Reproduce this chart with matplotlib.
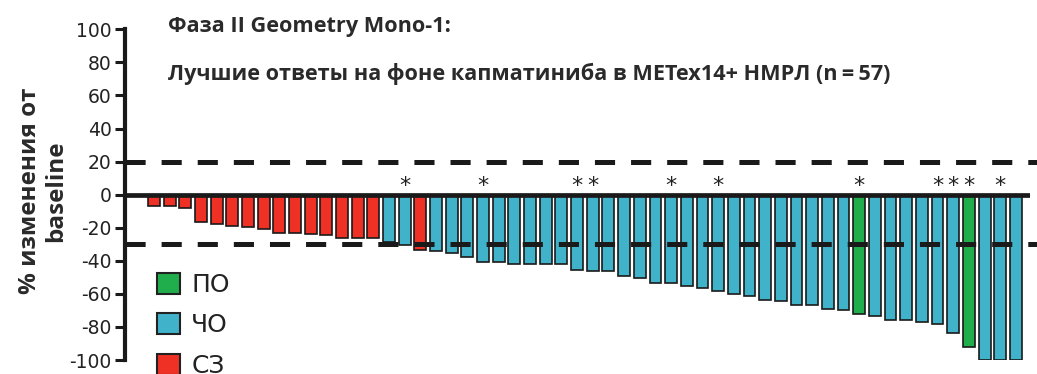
import matplotlib
matplotlib.use("Agg")
import matplotlib.pyplot as plt
from matplotlib.patches import Patch

# Best percent change from baseline per patient, sorted
changes = [-7, -7, -8, -16.5, -18, -19, -19.5, -21, -23, -23,
           -24, -24.5, -26.5, -26.5, -26.5, -28.5, -30.5, -33.5, -34, -35.5,
           -38, -40.5, -40.5, -42, -42, -42, -42, -45.5, -46, -46,
           -49.5, -50.5, -53.5, -53.5, -55, -56.5, -58, -60, -61.5, -64,
           -64.5, -66.5, -66.5, -69, -69.5, -72, -73.5, -76, -76, -77,
           -78, -83.5, -92, -100, -100, -100]
# Best overall response per patient
responses = ["СЗ"] * 15 + ["ЧО", "ЧО", "СЗ"] + ["ЧО"] * 27 + ["ПО"] + ["ЧО"] * 6 + ["ПО"] + ["ЧО"] * 3
# Patients marked with an asterisk
starred = [16, 21, 27, 28, 33, 36, 45, 50, 51, 52, 54]

legend_labels = ["ПО", "ЧО", "СЗ"]
colors = {"ПО": "#1fae4b", "ЧО": "#40b3cb", "СЗ": "#ee3124"}
yticks = list(range(-100, 101, 20))
thresholds = [20, -30]

title_lines = ["Фаза II Geometry Mono-1:",
               "Лучшие ответы на фоне капматиниба в METex14+ НМРЛ (n\u2009=\u200957)"]
ylabel = "% изменения от\nbaseline"

plt.rcParams["lines.scale_dashes"] = False

W, H = 1037, 374
fig = plt.figure(figsize=(W / 100, H / 100), dpi=100)
ax = fig.add_axes([125 / W, 1 - 360 / H, 905 / W, (360 - 29.3) / H])

x = list(range(len(changes)))
ax.bar(x, changes, width=0.76, color=[colors[r] for r in responses],
       edgecolor="#1a1a1a", linewidth=1.2, zorder=2)

ax.set_xlim(-1.85, 55.9)
ax.set_ylim(-100, 100)

# zero line
ax.axhline(0, color="#1a1a1a", linewidth=3.4, zorder=4)
# response thresholds
for t in thresholds:
    ax.plot([-1.85, 56.6], [t, t], color="#1a1a1a", linewidth=3.6,
            dashes=(14.5, 11.5), solid_capstyle="butt", dash_capstyle="butt",
            clip_on=False, zorder=5)

for i in starred:
    ax.text(i, 1.8, "*", ha="center", va="baseline", fontsize=16,
            color="#222222", family="DejaVu Sans", zorder=6)

for s in ["top", "right", "bottom"]:
    ax.spines[s].set_visible(False)
ax.spines["left"].set_linewidth(3.0)
ax.spines["left"].set_color("#1a1a1a")
ax.set_xticks([])
ax.set_yticks(yticks)
ax.set_yticklabels([str(v) for v in yticks], family="DejaVu Sans", fontsize=13.5,
                   color="#222222")
ax.tick_params(axis="y", length=7.5, width=2.2, color="#1a1a1a", pad=2)

handles = [Patch(facecolor=colors[k], edgecolor="#222222", linewidth=1.5)
           for k in legend_labels]
leg = ax.legend(handles, legend_labels, loc="upper left",
                bbox_to_anchor=(157 / W, 1 - 272.5 / H), bbox_transform=fig.transFigure,
                frameon=False, borderpad=0, borderaxespad=0,
                handlelength=0.92, handleheight=0.92, handletextpad=0.45,
                labelspacing=0.66, prop={"family": "DejaVu Sans", "size": 18})
for t in leg.get_texts():
    t.set_color("#222222")

fig.text(168 / W, 1 - 31.7 / H, title_lines[0], fontsize=15.6, fontweight="bold",
         family=["Open Sans", "DejaVu Sans"], color="#2a2a2a", va="baseline")
fig.text(168 / W, 1 - 80 / H, title_lines[1], fontsize=15.6, fontweight="bold",
         family=["Open Sans", "DejaVu Sans"], color="#2a2a2a", va="baseline")

fig.text(43 / W, 1 - 191 / H, ylabel, rotation=90, ha="center", va="center",
         multialignment="center", fontsize=17.5, fontweight="bold",
         family="Open Sans", color="#2a2a2a", linespacing=1.15)

fig.savefig("out.png", dpi=100)
